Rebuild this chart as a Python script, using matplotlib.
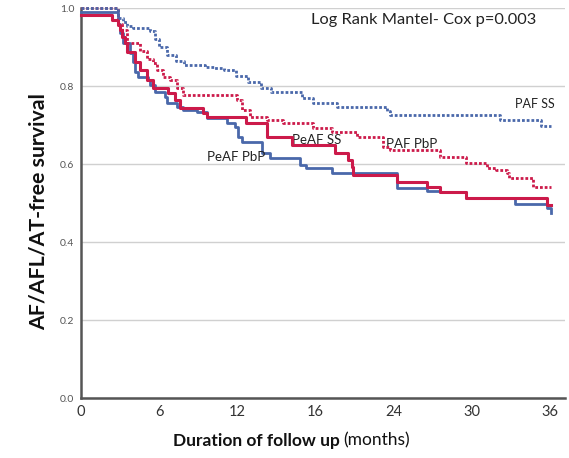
import matplotlib
matplotlib.use("Agg")
import matplotlib.pyplot as plt

# ---- data (months, survival) ----
paf_ss_t = [0, 2.84, 3.22, 3.53, 3.99, 5.30, 5.68, 5.99, 6.60, 7.29, 7.90, 9.52, 10.2, 11.0, 11.9, 12.8, 13.8, 14.6, 17.0, 17.8, 19.7, 23.5, 23.7, 32.2, 35.3, 36.1]
paf_ss_s = [1.0, 0.975, 0.965, 0.955, 0.95, 0.94, 0.92, 0.90, 0.88, 0.865, 0.855, 0.85, 0.845, 0.84, 0.825, 0.81, 0.795, 0.785, 0.77, 0.756, 0.746, 0.735, 0.726, 0.713, 0.697, 0.697]

paf_pbp_t = [0, 2.84, 3.15, 3.53, 4.53, 5.07, 5.53, 5.83, 6.29, 6.83, 7.37, 7.83, 12.0, 12.4, 13.0, 14.3, 15.5, 17.8, 19.3, 21.2, 23.2, 23.7, 27.55, 29.6, 31.2, 31.9, 32.7, 32.9, 34.7, 36.1]
paf_pbp_s = [1.0, 0.96, 0.944, 0.91, 0.89, 0.87, 0.86, 0.84, 0.823, 0.815, 0.795, 0.777, 0.764, 0.738, 0.72, 0.713, 0.705, 0.692, 0.682, 0.669, 0.644, 0.636, 0.618, 0.603, 0.59, 0.585, 0.577, 0.564, 0.541, 0.541]

peaf_ss_t = [0, 2.38, 2.84, 2.99, 3.15, 3.38, 3.53, 4.14, 4.53, 5.07, 5.53, 6.68, 7.21, 7.60, 9.36, 9.67, 12.7, 14.3, 16.2, 19.5, 20.5, 20.8, 20.9, 24.3, 26.6, 27.55, 29.6, 35.8, 36.1]
peaf_ss_s = [0.982, 0.97, 0.956, 0.944, 0.926, 0.91, 0.887, 0.862, 0.841, 0.815, 0.795, 0.782, 0.764, 0.744, 0.731, 0.72, 0.705, 0.67, 0.649, 0.628, 0.61, 0.592, 0.572, 0.554, 0.541, 0.528, 0.513, 0.495, 0.495]

peaf_pbp_t = [0, 2.84, 2.99, 3.22, 3.76, 3.99, 4.14, 4.37, 5.14, 5.30, 5.68, 6.45, 6.60, 7.37, 7.83, 8.90, 9.67, 11.2, 11.8, 12.05, 12.4, 13.9, 14.5, 16.8, 17.3, 19.3, 24.3, 26.6, 27.55, 29.6, 33.3, 35.8, 36.1]
peaf_pbp_s = [0.99, 0.96, 0.936, 0.91, 0.885, 0.862, 0.836, 0.823, 0.815, 0.803, 0.785, 0.772, 0.756, 0.746, 0.738, 0.733, 0.718, 0.705, 0.695, 0.67, 0.656, 0.628, 0.615, 0.597, 0.59, 0.577, 0.538, 0.532, 0.528, 0.513, 0.497, 0.487, 0.474]

x_ticks = [0, 6, 12, 18, 24, 30, 36]
x_tick_labels = ["0", "6", "12", "16", "24", "30", "36"]
y_ticks = [0.0, 0.2, 0.4, 0.6, 0.8, 1.0]
y_tick_labels = ["0.0", "0.2", "0.4", "0.6", "0.8", "1.0"]

BLUE = "#4a68aa"
RED = "#cc1a4a"
FONT = ["Lato", "DejaVu Sans"]

fig = plt.figure(figsize=(5.69, 4.58), dpi=100)
ax = fig.add_axes([0.1424, 0.131, 0.85, 0.8515])

ax.step(peaf_pbp_t, peaf_pbp_s, where="post", color=BLUE, lw=2.0, clip_on=False, zorder=3)
ax.step(peaf_ss_t, peaf_ss_s, where="post", color=RED, lw=2.2, clip_on=False, zorder=4)
ax.step(paf_pbp_t, paf_pbp_s, where="post", color=RED, lw=2.0, ls=(0, (1, 0.7)), clip_on=False, zorder=4)
ax.step(paf_ss_t, paf_ss_s, where="post", color=BLUE, lw=2.0, ls=(0, (1, 0.7)), clip_on=False, zorder=4)

ax.set_xlim(0, 37.15)
ax.set_ylim(0, 1.0)
ax.set_xticks(x_ticks)
ax.set_xticklabels(x_tick_labels, fontsize=10.5, color="#333333", family=FONT)
ax.set_yticks(y_ticks)
ax.set_yticklabels(y_tick_labels, fontsize=7.5, color="#555555", family=FONT)
ax.tick_params(axis="both", length=0)
ax.tick_params(axis="x", pad=5)
ax.tick_params(axis="y", pad=5)
ax.yaxis.grid(True, color="#d0d0d0", lw=1.0)
ax.set_axisbelow(True)
for s in ["top", "right"]:
    ax.spines[s].set_visible(False)
for s in ["left", "bottom"]:
    ax.spines[s].set_color("#555555")
    ax.spines[s].set_linewidth(1.8)

ax.set_ylabel("AF/AFL/AT-free survival", fontsize=15.3, fontweight="bold", family=FONT, color="#111111", va="center")
ax.yaxis.set_label_coords(-0.087, 0.479)

fig.text(0.745, 0.957, "Log Rank Mantel- Cox p=0.003", fontsize=11.8, family=FONT, ha="center", va="center", color="#222222")
ax.text(36.4, 0.753, "PAF SS", fontsize=9, family=FONT, ha="right", va="center", color="#222222")
ax.text(25.4, 0.652, "PAF PbP", fontsize=9.5, family=FONT, ha="center", va="center", color="#222222")
ax.text(18.1, 0.661, "PeAF SS", fontsize=9.5, family=FONT, ha="center", va="center", color="#222222")
ax.text(11.9, 0.618, "PeAF PbP", fontsize=9.5, family=FONT, ha="center", va="center", color="#222222")

fig.text(0.598, 0.038, "Duration of follow up", fontsize=12.5, fontweight="bold", family=FONT, ha="right", va="center", color="#111111")
fig.text(0.604, 0.038, "(months)", fontsize=12.5, family=FONT, ha="left", va="center", color="#111111")

fig.savefig("out.png", dpi=100)
